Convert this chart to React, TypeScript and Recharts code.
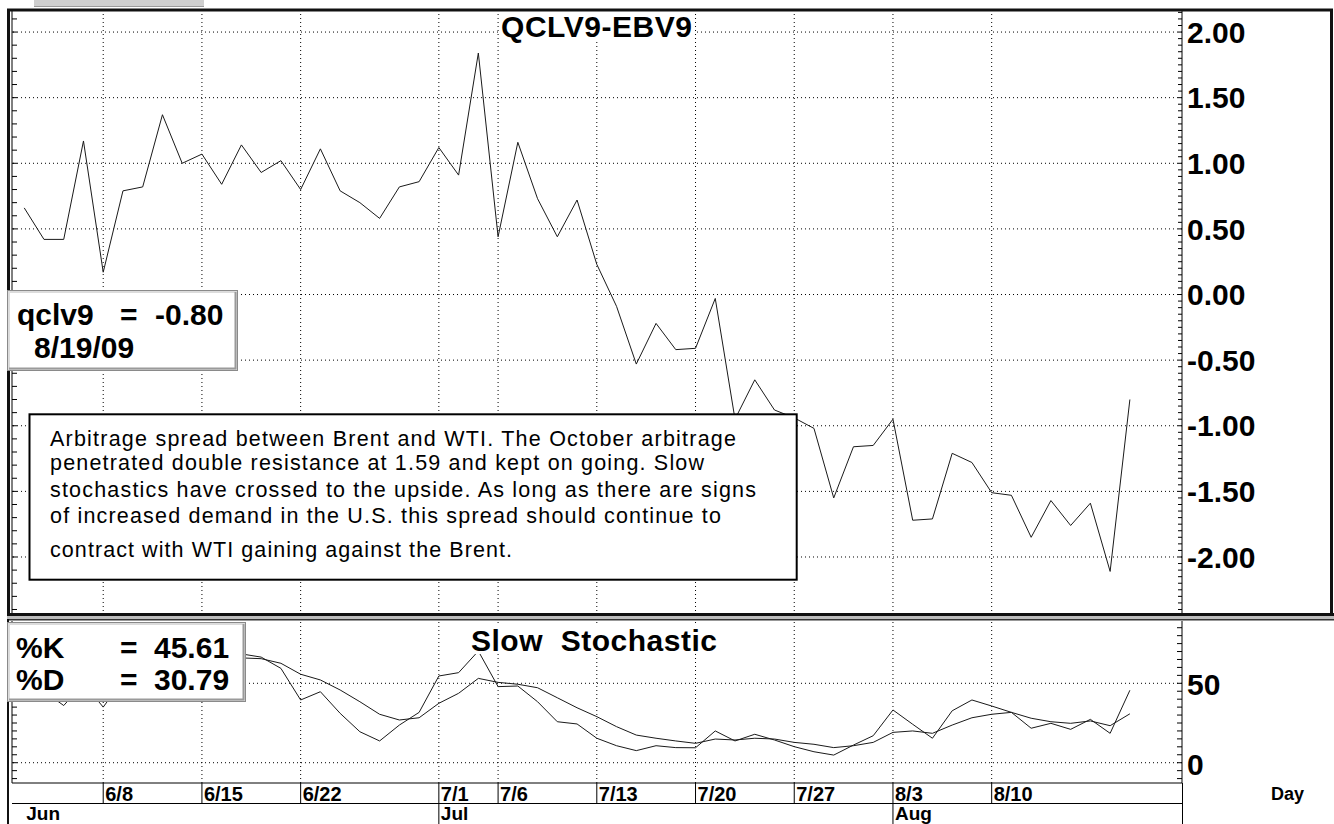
import React from 'react';
import { LineChart, Line, XAxis, YAxis, ReferenceLine } from 'recharts';

// ---------- data ----------
const dates = [
  '6/2', '6/3', '6/4', '6/5',
  '6/8', '6/9', '6/10', '6/11', '6/12',
  '6/15', '6/16', '6/17', '6/18', '6/19',
  '6/22', '6/23', '6/24', '6/25', '6/26',
  '6/29', '6/30', '7/1', '7/2', '7/3',
  '7/6', '7/7', '7/8', '7/9', '7/10',
  '7/13', '7/14', '7/15', '7/16', '7/17',
  '7/20', '7/21', '7/22', '7/23', '7/24',
  '7/27', '7/28', '7/29', '7/30', '7/31',
  '8/3', '8/4', '8/5', '8/6', '8/7',
  '8/10', '8/11', '8/12', '8/13', '8/14',
  '8/17', '8/18', '8/19',
];

const spread = [
  0.66, 0.42, 0.42, 1.17,
  0.17, 0.79, 0.82, 1.37, 1.0,
  1.07, 0.84, 1.14, 0.93, 1.02,
  0.8, 1.11, 0.79, 0.7, 0.58,
  0.82, 0.86, 1.12, 0.91, 1.84,
  0.44, 1.16, 0.73, 0.44, 0.72,
  0.23, -0.09, -0.53, -0.22, -0.42,
  -0.41, -0.03, -0.95, -0.65, -0.88,
  -0.94, -1.02, -1.55, -1.16, -1.15,
  -0.95, -1.72, -1.71, -1.21, -1.28,
  -1.51, -1.53, -1.85, -1.57, -1.76,
  -1.59, -2.11, -0.8,
];

const pctK = [
  55, 45, 36, 50,
  35, 52, 60, 70, 72,
  73, 70, 68.5, 66.5, 59.4,
  39.5, 44.7, 31.1, 19.5, 13.7,
  23.7, 31.7, 54.6, 56.7, 70.3,
  47.9, 48.3, 38.4, 25.8, 24.4,
  15.4, 10.7, 7.6, 10.7, 9.5,
  9.4, 20, 13.7, 17.9, 14.3,
  10.1, 6.9, 4.8, 11.1, 17,
  33.2, 24.2, 15.4, 32.7, 39.5,
  35.7, 31.7, 21.7, 24.8, 21,
  27.3, 18.5, 45.61,
];

const pctD = [
  58, 52, 45, 44,
  40, 46, 49, 61, 67,
  72, 72, 66, 65.5, 62.6,
  55.7, 52.1, 45.8, 38.4, 30.5,
  26.9, 28.3, 37.4, 43.7, 53.1,
  50.6, 49.4, 47.2, 40.9, 34.6,
  29, 22.7, 17.4, 15.4, 13.7,
  12.2, 14.9, 14.3, 15.4, 14.9,
  12.8, 11.6, 9.5, 10.7, 12.8,
  19.1, 20, 18.5, 23.7, 28.3,
  30.5, 31.7, 28, 25.8, 24.8,
  26.3, 23.3, 30.79,
];

const dateTickLabels = ['6/8', '6/15', '6/22', '7/1', '7/6', '7/13', '7/20', '7/27', '8/3', '8/10'];
const monthNames = ['Jun', 'Jul', 'Aug'];
const monthFirstDays = ['6/1', '7/1', '8/3'];
const spreadTicks = [2, 1.5, 1, 0.5, 0, -0.5, -1, -1.5, -2];
const stochTicks = [50, 0];

const chartTitle = 'QCLV9-EBV9';
const stochTitle = 'Slow  Stochastic';
const lastDate = '8/19/09';
const annotationLines = [
  'Arbitrage spread between Brent and WTI. The October arbitrage',
  'penetrated double resistance at 1.59 and kept on going. Slow',
  'stochastics have crossed to the upside. As long as there are signs',
  'of increased demand in the U.S. this spread should continue to',
  'contract with WTI gaining against the Brent.',
];

// ---------- layout ----------
const W = 1334;
const H = 824;
const FONT = "'Liberation Sans', Arial, Helvetica, sans-serif";
const X_DOMAIN: [number, number] = [-0.62, 58.64];
const TOP_DOMAIN: [number, number] = [-2.442, 2.168];
const BOT_DOMAIN: [number, number] = [-12.78, 89.23];

const rows = dates.map((d, i) => ({ i, d, spread: spread[i], k: pctK[i], dv: pctD[i] }));

const range = (a: number, b: number, s: number) => {
  const out: number[] = [];
  for (let v = a; v <= b + 1e-9; v += s) out.push(Math.round(v * 1000) / 1000);
  return out;
};

const dateTickIdx = dateTickLabels.map((l) => dates.indexOf(l));
const monthInfo = monthNames.map((m, j) => {
  const idx = dates.indexOf(monthFirstDays[j]);
  return { name: m, idx: idx < 0 ? 0 : idx, sep: idx >= 0 };
});
const axisTickIdx = Array.from(new Set([...monthInfo.map((m) => m.idx), ...dateTickIdx])).sort((a, b) => a - b);

function AxisTick(props: any) {
  const { x, y, payload, side, len, labels, fmt, fontSize, dy } = props;
  const v = payload?.value;
  const show = labels && labels.some((l: number) => Math.abs(l - v) < 1e-6);
  const x2 = side === 'right' ? x - len : x + len;
  return (
    <g>
      <line x1={x} x2={x2} y1={y} y2={y} stroke="#000" strokeWidth={1} />
      {show && (
        <text x={x + 5} y={y + dy} fontSize={fontSize} fontWeight="bold" fontFamily={FONT} fill="#000">
          {fmt(v)}
        </text>
      )}
    </g>
  );
}

function DateTick(props: any) {
  const { x, y, payload } = props;
  const v = payload?.value;
  const isDate = dateTickIdx.includes(v);
  const m = monthInfo.find((mm) => mm.idx === v);
  return (
    <g>
      {isDate && <line x1={x} x2={x} y1={y} y2={y + 20} stroke="#000" strokeWidth={1} />}
      {isDate && (
        <text x={x + 2} y={y + 18} fontSize={20} fontWeight="bold" fontFamily={FONT} fill="#000">
          {dates[v]}
        </text>
      )}
      {m && m.sep && <line x1={x} x2={x} y1={y + 20} y2={y + 41} stroke="#000" strokeWidth={1} />}
      {m && (
        <text x={x + 2} y={y + 37} fontSize={19} fontWeight="bold" fontFamily={FONT} fill="#000">
          {m.name}
        </text>
      )}
    </g>
  );
}

const dotted = { stroke: '#000', strokeDasharray: '1 3', strokeWidth: 1 };

function Bevel({ x, y, w, h }: { x: number; y: number; w: number; h: number }) {
  return (
    <g>
      <rect x={x + 0.5} y={y + 0.5} width={w - 1} height={h - 1} fill="#fff" stroke="#8a8a8a" strokeWidth={1} />
      <rect x={x + 2} y={y + 2} width={w - 4} height={h - 4} fill="none" stroke="#dcdcdc" strokeWidth={2} />
      <polyline
        points={`${x + w - 2.5},${y + 2} ${x + w - 2.5},${y + h - 2.5} ${x + 2},${y + h - 2.5}`}
        fill="none"
        stroke="#9a9a9a"
        strokeWidth={2}
      />
    </g>
  );
}

export default function App() {
  const topRightTicks = range(-2.4, 2.15, 0.05);
  const topLeftTicks = range(-2.4, 2.1, 0.1);
  const botTicks = range(-10, 85, 5);

  return (
    <div style={{ position: 'absolute', left: 0, top: 0, width: W, height: H, background: '#fff', overflow: 'hidden' }}>
      {/* price panel */}
      <div style={{ position: 'absolute', left: 0, top: 0 }}>
        <LineChart width={W} height={H} data={rows} margin={{ top: 10, right: 0, bottom: H - 615, left: 11 }}>
          <XAxis dataKey="i" type="number" domain={X_DOMAIN} allowDataOverflow hide />
          <YAxis
            yAxisId="l"
            orientation="left"
            width={1}
            domain={TOP_DOMAIN}
            allowDataOverflow
            ticks={topLeftTicks}
            interval={0}
            tickSize={0}
            tickMargin={0}
            tickLine={false}
            axisLine={{ stroke: '#000' }}
            tick={<AxisTick side="left" len={5} />}
          />
          <YAxis
            yAxisId="r"
            orientation="right"
            width={152}
            domain={TOP_DOMAIN}
            allowDataOverflow
            ticks={topRightTicks}
            interval={0}
            tickSize={0}
            tickMargin={0}
            tickLine={false}
            axisLine={{ stroke: '#000' }}
            tick={<AxisTick side="right" len={4} labels={spreadTicks} fmt={(v: number) => v.toFixed(2)} fontSize={30} dy={10.7} />}
          />
          {spreadTicks.map((v) => (
            <ReferenceLine key={'h' + v} yAxisId="r" y={v} {...dotted} />
          ))}
          {dateTickIdx.map((ix) => (
            <ReferenceLine key={'v' + ix} yAxisId="r" x={ix} {...dotted} />
          ))}
          <Line
            yAxisId="r"
            type="linear"
            dataKey="spread"
            stroke="#1a1a1a"
            strokeWidth={1}
            dot={false}
            activeDot={false}
            isAnimationActive={false}
          />
        </LineChart>
      </div>

      {/* stochastic panel */}
      <div style={{ position: 'absolute', left: 0, top: 0 }}>
        <LineChart width={W} height={H} data={rows} margin={{ top: 621, right: 0, bottom: 0, left: 11 }}>
          <XAxis
            dataKey="i"
            type="number"
            domain={X_DOMAIN}
            allowDataOverflow
            height={41}
            ticks={axisTickIdx}
            interval={0}
            tickSize={0}
            tickMargin={0}
            tickLine={false}
            axisLine={{ stroke: '#000' }}
            tick={<DateTick />}
          />
          <YAxis
            yAxisId="l"
            orientation="left"
            width={1}
            domain={BOT_DOMAIN}
            allowDataOverflow
            ticks={botTicks}
            interval={0}
            tickSize={0}
            tickMargin={0}
            tickLine={false}
            axisLine={{ stroke: '#000' }}
            tick={<AxisTick side="left" len={5} />}
          />
          <YAxis
            yAxisId="r"
            orientation="right"
            width={152}
            domain={BOT_DOMAIN}
            allowDataOverflow
            ticks={botTicks}
            interval={0}
            tickSize={0}
            tickMargin={0}
            tickLine={false}
            axisLine={{ stroke: '#000' }}
            tick={<AxisTick side="right" len={5} labels={stochTicks} fmt={(v: number) => String(v)} fontSize={30} dy={12} />}
          />
          {stochTicks.map((v) => (
            <ReferenceLine key={'sh' + v} yAxisId="r" y={v} {...dotted} />
          ))}
          {dateTickIdx.map((ix) => (
            <ReferenceLine key={'sv' + ix} yAxisId="r" x={ix} {...dotted} />
          ))}
          <Line yAxisId="r" type="linear" dataKey="dv" stroke="#1a1a1a" strokeWidth={1} dot={false} activeDot={false} isAnimationActive={false} />
          <Line yAxisId="r" type="linear" dataKey="k" stroke="#1a1a1a" strokeWidth={1} dot={false} activeDot={false} isAnimationActive={false} />
        </LineChart>
      </div>

      {/* frame, titles and notes */}
      <svg width={W} height={H} style={{ position: 'absolute', left: 0, top: 0, pointerEvents: 'none' }}>
        <rect x={34} y={0} width={170} height={7} fill="#cfcfcf" />
        <rect x={34} y={6} width={170} height={1} fill="#9a9a9a" />
        <rect x={7} y={8} width={1326} height={1} fill="#888" />
        <rect x={7} y={9} width={1326} height={2.5} fill="#111" />
        <rect x={7} y={9} width={3} height={607} fill="#111" />
        <rect x={1330} y={9} width={3} height={607} fill="#111" />
        <rect x={7} y={613} width={1327} height={3} fill="#111" />
        <rect x={7} y={616} width={1327} height={3} fill="#bdbdbd" />
        <rect x={7} y={619} width={1327} height={1.5} fill="#333" />
        <rect x={7} y={619} width={2} height={205} fill="#111" />
        <line x1={12} x2={1182} y1={803.5} y2={803.5} stroke="#000" strokeWidth={1} />
        <line x1={1182.5} x2={1182.5} y1={783} y2={824} stroke="#000" strokeWidth={1} />

        {/* titles */}
        <rect x={500} y={14} width={194} height={27} fill="#fff" />
        <text x={501} y={37} fontSize={30} fontWeight="bold" fontFamily={FONT} fill="#000" textLength={191} lengthAdjust="spacing">
          {chartTitle}
        </text>
        <rect x={469} y={624} width={250} height={30} fill="#fff" />
        <text x={471} y={651} fontSize={30} fontWeight="bold" fontFamily={FONT} fill="#000" style={{ whiteSpace: 'pre' }} textLength={246} lengthAdjust="spacing">
          {stochTitle}
        </text>
        <text x={1271} y={800} fontSize={18} fontWeight="bold" fontFamily={FONT} fill="#000">
          Day
        </text>

        {/* last value box */}
        <Bevel x={7} y={290} w={231} h={81} />
        <text fontSize={30} fontWeight="bold" fontFamily={FONT} fill="#000" y={325}>
          <tspan x={17}>qclv9</tspan>
          <tspan x={120}>=</tspan>
          <tspan x={155}>{spread[spread.length - 1].toFixed(2)}</tspan>
        </text>
        <text x={34} y={358} fontSize={30} fontWeight="bold" fontFamily={FONT} fill="#000">
          {lastDate}
        </text>

        {/* stochastic values box */}
        <Bevel x={7} y={622} w={239} h={80} />
        <text fontSize={30} fontWeight="bold" fontFamily={FONT} fill="#000" y={658}>
          <tspan x={16}>%K</tspan>
          <tspan x={120}>=</tspan>
          <tspan x={154}>{pctK[pctK.length - 1].toFixed(2)}</tspan>
        </text>
        <text fontSize={30} fontWeight="bold" fontFamily={FONT} fill="#000" y={690}>
          <tspan x={16}>%D</tspan>
          <tspan x={120}>=</tspan>
          <tspan x={154}>{pctD[pctD.length - 1].toFixed(2)}</tspan>
        </text>

        {/* annotation */}
        <rect x={29.5} y={414.3} width={767.2} height={165.4} fill="#fff" stroke="#000" strokeWidth={2} />
        {annotationLines.map((t, j) => (
          <text
            key={j}
            x={50}
            y={[446, 470, 497, 523, 557][j]}
            fontSize={21.5}
            fontFamily={FONT}
            fill="#000"
            textLength={[686, 654, 706, 671, 462][j]}
            lengthAdjust="spacing"
          >
            {t}
          </text>
        ))}
      </svg>
    </div>
  );
}
